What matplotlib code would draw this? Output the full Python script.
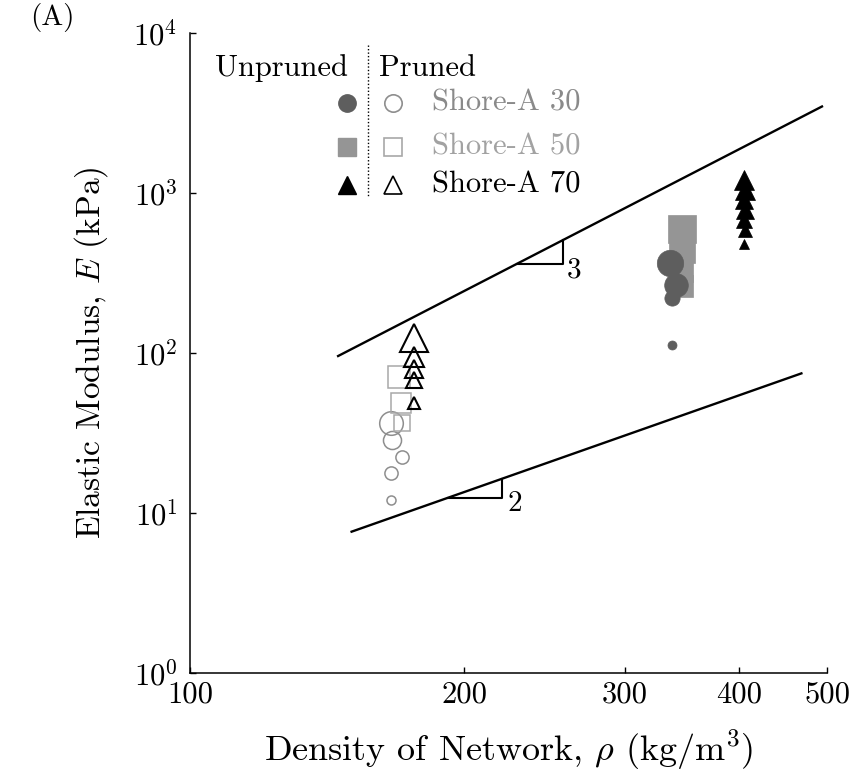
import matplotlib
matplotlib.use("Agg")
import matplotlib.pyplot as plt
import numpy as np

plt.rcParams['font.family'] = ['cmr10', 'DejaVu Serif']
plt.rcParams['mathtext.fontset'] = 'cm'
plt.rcParams['axes.formatter.use_mathtext'] = True

# ---------------- data ----------------
# Pruned (open markers)
rho_p30 = [166.0, 166.5, 170.7, 166.2, 166.2]
E_p30 = [36.3, 28.6, 22.3, 17.7, 12.1]
sz_p30 = [17, 13, 9.5, 9.5, 6.5]

rho_p50 = [169.5, 170.4, 171.0]
E_p50 = [71, 49, 36.5]
sz_p50 = [16, 15, 11.5]

rho_p70 = [176, 176, 176, 176, 176]
E_p70 = [124, 94, 80, 68, 49]
sz_p70 = [19.5, 15, 13.5, 12, 8]

# Unpruned (filled markers)
rho_u30 = [336.6, 341.6, 338.3, 338.0]
E_u30 = [365, 266, 221, 112]
sz_u30 = [19, 17, 11, 6.5]

rho_u50 = [346.7, 346.7, 346.0, 346.7]
E_u50 = [596, 440, 330, 262]
sz_u50 = [20, 19, 17, 16]

rho_u70 = [405, 406, 405, 406, 405, 406, 405]
E_u70 = [1200, 1050, 900, 780, 680, 590, 480]
sz_u70 = [14.5, 14.5, 13, 13, 11.5, 10, 6.5]

# Scaling guide lines
guide3_rho = [145, 495]
guide3_E = [95, 3500]
guide2_rho = [150, 470]
guide2_E = [7.6, 75]

# slope triangles (legs)
tri3_rho = [228.6, 256.7, 256.7]
tri3_E = [362, 362, 508]
tri2_rho = [192, 220, 220]
tri2_E = [12.46, 12.46, 16.4]

xticks = [100, 200, 300, 400, 500]
xticklabels = ['100', '200', '300', '400', '500']
yticks = [1, 10, 100, 1000, 10000]
yticklabels = [r'$10^{0}$', r'$10^{1}$', r'$10^{2}$', r'$10^{3}$', r'$10^{4}$']

# colours
c30_fill = '#5e5e5e'
c50_fill = '#959595'
c30_edge = '#8e8e8e'
c50_edge = '#a8a8a8'
c30_text = '#8a8a8a'
c50_text = '#a2a2a2'

# ---------------- figure ----------------
W, H = 860, 779
fig = plt.figure(figsize=(W / 100, H / 100), dpi=100)
ax = fig.add_axes([190 / W, (H - 673) / H, 637 / W, 640 / H])
ax.set_xscale('log')
ax.set_yscale('log')
ax.set_xlim(100, 500)
ax.set_ylim(1, 1e4)

for s in ['top', 'right']:
    ax.spines[s].set_visible(False)
for s in ['left', 'bottom']:
    ax.spines[s].set_linewidth(1.1)

ax.set_xticks(xticks)
ax.set_xticklabels(xticklabels)
ax.set_yticks(yticks)
ax.set_yticklabels(yticklabels)
ax.minorticks_off()
ax.tick_params(axis='both', which='major', direction='in', length=4, width=1.0,
               labelsize=22)
ax.tick_params(axis='x', pad=6)
ax.tick_params(axis='y', pad=9)

# guide lines
ax.plot(guide3_rho, guide3_E, color='black', lw=1.7, solid_capstyle='butt')
ax.plot(guide2_rho, guide2_E, color='black', lw=1.7, solid_capstyle='butt')
ax.plot(tri3_rho, tri3_E, color='black', lw=1.5)
ax.plot(tri2_rho, tri2_E, color='black', lw=1.5)
ax.text(259, 330, '3', fontsize=21, ha='left', va='center')
ax.text(223, 11.4, '2', fontsize=21, ha='left', va='center')

# pruned (open)
for r, e, s in zip(rho_p30, E_p30, sz_p30):
    ax.plot(r, e, 'o', ms=s, mfc='none', mec=c30_edge, mew=1.1)
for r, e, s in zip(rho_p50, E_p50, sz_p50):
    ax.plot(r, e, 's', ms=s, mfc='none', mec=c50_edge, mew=1.1)
for r, e, s in zip(rho_p70, E_p70, sz_p70):
    ax.plot(r, e, '^', ms=s, mfc='none', mec='black', mew=1.5)

# unpruned (filled)
for r, e, s in zip(rho_u50, E_u50, sz_u50):
    ax.plot(r, e, 's', ms=s, mfc=c50_fill, mec=c50_fill, mew=0.5)
for r, e, s in zip(rho_u30, E_u30, sz_u30):
    ax.plot(r, e, 'o', ms=s, mfc=c30_fill, mec=c30_fill, mew=0.5)
for r, e, s in zip(rho_u70, E_u70, sz_u70):
    ax.plot(r, e, '^', ms=s, mfc='black', mec='black', mew=0.5)

# axis labels
ax.set_xlabel(r'Density of Network, $\rho$ (kg/m$^3$)', fontsize=26)
ax.set_ylabel(r'Elastic Modulus, $E$ (kPa)', fontsize=24)
ax.xaxis.set_label_coords(0.5, (673 - 728) / 640)
ax.yaxis.set_label_coords((110 - 190) / 637, 0.5)

# custom legend (axes fraction coordinates)
def fx(px):
    return (px - 190) / 637

def fy(py):
    return (673 - py) / 640

tA = ax.transAxes
ax.text(fx(348), fy(68), 'Unpruned', transform=tA, fontsize=22, ha='right', va='center')
ax.text(fx(379), fy(68), 'Pruned', transform=tA, fontsize=22, ha='left', va='center')
ax.plot([fx(368), fx(368)], [fy(45), fy(197)], transform=tA, color='black',
        lw=1.0, ls=(0, (1, 1.5)), clip_on=False)

rows = [
    ('o', c30_fill, c30_edge, 'Shore-A 30', c30_text, 103),
    ('s', c50_fill, c50_edge, 'Shore-A 50', c50_text, 147),
    ('^', 'black', 'black', 'Shore-A 70', 'black', 185),
]
for m, fill, edge, lab, tc, py in rows:
    ax.plot(fx(347), fy(py), m, ms=12.5, mfc=fill, mec=fill, transform=tA, clip_on=False)
    ax.plot(fx(393), fy(py), m, ms=12.5, mfc='none', mec=edge, mew=1.2,
            transform=tA, clip_on=False)
    ax.text(fx(432), fy(py), lab, transform=tA, fontsize=22, ha='left',
            va='center', color=tc)

fig.text(30 / W, 1 - 18 / H, '(A)', fontsize=21, ha='left', va='center')

fig.savefig('out.png', dpi=100)
